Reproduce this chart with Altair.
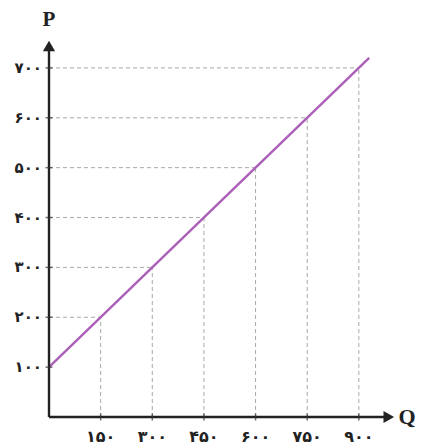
import altair as alt
import pandas as pd

# data
q_vals = [150, 300, 450, 600, 750, 900]
p_vals = [200, 300, 400, 500, 600, 700]
q_labels = ["۱۵۰", "۳۰۰", "۴۵۰", "۶۰۰", "۷۵۰", "۹۰۰"]
p_ticks = [100, 200, 300, 400, 500, 600, 700]
p_labels = ["۱۰۰", "۲۰۰", "۳۰۰", "۴۰۰", "۵۰۰", "۶۰۰", "۷۰۰"]
line_q = [0, 930]
line_p = [100, 720]

X_MAX = 1005
Y_MAX = 760

drops = pd.DataFrame({"q": q_vals, "p": p_vals, "zero": [0] * len(q_vals)})
xl = pd.DataFrame({"q": q_vals, "lab": q_labels, "zero": [0] * len(q_vals)})
yl = pd.DataFrame({"p": p_ticks, "lab": p_labels, "zero": [0] * len(p_ticks)})
line = pd.DataFrame({"q": line_q, "p": line_p})
axes = pd.DataFrame({"x": [0, 0], "x2": [0, X_MAX - 14], "y": [0, 0], "y2": [Y_MAX - 24, 0]})
arrows = pd.DataFrame({"x": [0, X_MAX - 18], "y": [Y_MAX - 16, 0],
                       "shape": ["triangle-up", "triangle-right"]})
names = pd.DataFrame({"x": [0, X_MAX], "y": [Y_MAX, 0], "t": ["P", "Q"]})

xs = alt.Scale(domain=[0, X_MAX], nice=False, zero=False)
ys = alt.Scale(domain=[0, Y_MAX], nice=False, zero=False)


def X(f):
    return alt.X(f, type="quantitative", scale=xs, axis=None)


def Y(f):
    return alt.Y(f, type="quantitative", scale=ys, axis=None)


grid_color = "#a8a8a8"
vgrid = alt.Chart(drops).mark_rule(color=grid_color, strokeDash=[4, 3], strokeWidth=1).encode(
    x=X("q"), y=Y("zero"), y2="p")
hgrid = alt.Chart(drops).mark_rule(color=grid_color, strokeDash=[4, 3], strokeWidth=1).encode(
    y=Y("p"), x=X("zero"), x2="q")

axis_lines = alt.Chart(axes).mark_rule(color="#222", strokeWidth=2.4).encode(
    x=X("x"), x2="x2", y=Y("y"), y2="y2")
arrow_heads = alt.Chart(arrows).mark_point(filled=True, color="#222", size=150, opacity=1).encode(
    x=X("x"), y=Y("y"),
    shape=alt.Shape("shape:N", scale=None, legend=None))

xticks = alt.Chart(xl).mark_tick(orient="vertical", color="#333", size=7, thickness=1.5).encode(
    x=X("q"), y=Y("zero"))
yticks = alt.Chart(yl).mark_tick(orient="horizontal", color="#333", size=7, thickness=1.5).encode(
    x=X("zero"), y=Y("p"))

supply = alt.Chart(line).mark_line(color="#ac5fb8", strokeWidth=2.4).encode(
    x=X("q"), y=Y("p"))

xtext = alt.Chart(xl).mark_text(font="DejaVu Sans", fontWeight="bold", fontSize=16,
                                 baseline="middle", align="center", dy=20, color="#222").encode(
    x=X("q"), y=Y("zero"), text="lab:N")
ytext = alt.Chart(yl).mark_text(font="DejaVu Sans", fontWeight="bold", fontSize=15,
                                 baseline="middle", align="right", dx=-7, color="#222").encode(
    x=X("zero"), y=Y("p"), text="lab:N")

pname = alt.Chart(names.iloc[[0]]).mark_text(font="Liberation Serif", fontWeight="bold", fontSize=21,
                                              baseline="middle", align="center", dy=-18, color="#222").encode(
    x=X("x"), y=Y("y"), text="t:N")
qname = alt.Chart(names.iloc[[1]]).mark_text(font="Liberation Serif", fontWeight="bold", fontSize=22,
                                              baseline="middle", align="center", dx=12, color="#222").encode(
    x=X("x"), y=Y("y"), text="t:N")

chart = alt.layer(vgrid, hgrid, supply, axis_lines, arrow_heads, xticks, yticks,
                  xtext, ytext, pname, qname).properties(
    width=346, height=379,
    autosize=alt.AutoSizeParams(type="none"),
    padding={"left": 41, "top": 30, "right": 27, "bottom": 29},
    background="white",
).configure_view(stroke=None)

chart.save("out.html", embed_options={"renderer": "svg", "actions": False})
